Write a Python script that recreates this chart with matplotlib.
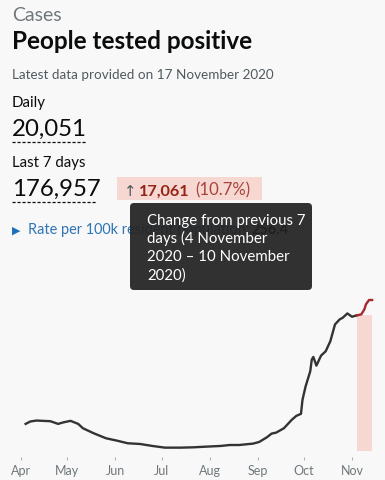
import numpy as np
import pandas as pd
import matplotlib
matplotlib.use("Agg")
import matplotlib.pyplot as plt
import matplotlib.dates as mdates
from matplotlib.patches import FancyBboxPatch
from matplotlib.lines import Line2D
from matplotlib.transforms import IdentityTransform

plt.rcParams['font.family'] = ['Lato', 'DejaVu Sans']

# 7-day average of people tested positive
dates = ["2020-04-04", "2020-04-07", "2020-04-11", "2020-04-15", "2020-04-20", "2020-04-25",
         "2020-04-28", "2020-05-03", "2020-05-08", "2020-05-11", "2020-05-18", "2020-05-26",
         "2020-06-02", "2020-06-09", "2020-06-17", "2020-06-25", "2020-07-03", "2020-07-13",
         "2020-07-21", "2020-07-30", "2020-08-08", "2020-08-14", "2020-08-20", "2020-08-29",
         "2020-09-02", "2020-09-07", "2020-09-10", "2020-09-13", "2020-09-18", "2020-09-23",
         "2020-09-26", "2020-09-29", "2020-09-30", "2020-10-02", "2020-10-05", "2020-10-06",
         "2020-10-07", "2020-10-09", "2020-10-10", "2020-10-12", "2020-10-15", "2020-10-18",
         "2020-10-21", "2020-10-24", "2020-10-26", "2020-10-29", "2020-11-01", "2020-11-04",
         "2020-11-07", "2020-11-09", "2020-11-10", "2020-11-12", "2020-11-14"]
values = [4520, 4920, 5080, 5030, 4970, 4520, 4750, 5030, 4520, 3800, 2960, 2120,
          1730, 1290, 1170, 840, 560, 560, 610, 730, 840, 1000, 1000, 1230,
          1510, 2290, 2900, 3070, 3800, 5190, 5860, 6200, 8550, 10780, 13290, 15250,
          15690, 14240, 14800, 15920, 16640, 18320, 21110, 21950, 22230, 22950, 22400, 22620,
          22790, 23630, 24460, 25190, 25190]

highlight_start = "2020-11-04"
highlight_end = "2020-11-14"
month_ticks = ["2020-04-01", "2020-05-01", "2020-06-01", "2020-07-01", "2020-08-01",
               "2020-09-01", "2020-10-01", "2020-11-01"]
month_labels = ["Apr", "May", "Jun", "Jul", "Aug", "Sep", "Oct", "Nov"]

daily_value = "20,051"
week_value = "176,957"
change_value = "17,061"
change_pct = "(10.7%)"
rate_value = "256.4"

W, H = 385, 480
BG = "#f8f8f8"
fig = plt.figure(figsize=(W / 100, H / 100), dpi=100, facecolor=BG)


def txt(x, y, s, size, **kw):
    # x, y in pixels from top-left, y is the baseline; size in pixels
    return fig.text(x / W, 1 - y / H, s, fontsize=size * 0.72, va="baseline", ha="left", **kw)


def box(x0, y0, x1, y1, color, rounding=0, alpha=1.0, z=1):
    style = "round,pad=0,rounding_size=%g" % rounding if rounding else "square,pad=0"
    p = FancyBboxPatch((x0, H - y1), x1 - x0, y1 - y0, boxstyle=style,
                       facecolor=color, edgecolor="none", alpha=alpha,
                       transform=IdentityTransform(), zorder=z)
    fig.add_artist(p)


def dashed(x0, x1, y):
    fig.add_artist(Line2D([x0, x1], [H - y, H - y], transform=IdentityTransform(),
                          color="#0b0c0c", lw=0.9, dashes=(2.5, 1.5)))


# header text
txt(12, 21, "Cases", 19.5, color="#6f777b")
txt(12, 49, "People tested positive", 24.3, color="#0b0c0c", fontweight="bold")
txt(12, 79, "Latest data provided on 17 November 2020", 13.5, color="#505a5f")
txt(12, 106.5, "Daily", 15, color="#0b0c0c")
txt(12, 135.5, daily_value, 24, color="#0b0c0c")
dashed(12, 86, 142)
txt(12, 167, "Last 7 days", 15, color="#0b0c0c")
txt(12, 196, week_value, 24, color="#0b0c0c")
dashed(12, 97, 202)

# change badge
box(117, 177, 262, 200, "#f6d7d2")
txt(124, 195.5, "\u2191", 15, color="#505a5f", family=["DejaVu Sans"])
txt(139, 195.5, change_value, 16.3, color="#942514", fontweight="bold")
txt(195, 195.5, change_pct, 16.8, color="#a8453a")

# rate link (mostly hidden under the tooltip)
txt(12, 234, "\u25b6", 11, color="#1d70b8", family=["DejaVu Sans"])
txt(28, 234, "Rate per 100k resident population:", 14.5, color="#2f74b5")
txt(252, 234, rate_value, 14.5, color="#0b0c0c", fontweight="bold")

# tooltip
box(130, 203, 312, 290, "#222222", rounding=4, alpha=0.93, z=5)
tip_lines = ["Change from previous 7", "days (4 November", "2020 \u2013 10 November", "2020)"]
for i, line in enumerate(tip_lines):
    t = txt(147, 224.5 + i * 18.3, line, 15, color="white")
    t.set_zorder(6)

# chart
ax = fig.add_axes([10 / W, (H - 457) / H, 365 / W, 157 / H])
ax.set_facecolor(BG)
x = pd.to_datetime(dates)
y = np.array(values)
hs, he = pd.Timestamp(highlight_start), pd.Timestamp(highlight_end)
shade_top = y[x == hs][0]
ax.fill_between([hs, he], 0, shade_top, color="#f6d7d2", lw=0, zorder=1)

black = x <= hs
red = x >= hs
ax.plot(x[black], y[black], color="#333333", lw=1.7, solid_joinstyle="round", clip_on=False, zorder=3)
ax.plot(x[red], y[red], color="#a52a2a", lw=1.7, solid_joinstyle="round", clip_on=False, zorder=3)

per_px = max(values) / 151.0
ax.set_ylim(-6 * per_px, max(values))
x0 = mdates.date2num(pd.Timestamp("2020-04-01"))
x1 = mdates.date2num(pd.Timestamp("2020-11-01"))
day_px = (352 - 21) / (x1 - x0)
ax.set_xlim(x0 - 11 / day_px, x1 + 23 / day_px)

ax.set_xticks(pd.to_datetime(month_ticks))
ax.set_xticklabels(month_labels)
ax.set_yticks([])
for s in ax.spines.values():
    s.set_visible(False)
ax.tick_params(axis="x", direction="out", length=2.5, width=0.8, color="#b1b4b6",
               labelsize=12.5 * 0.72, labelcolor="#6f777b", pad=3)

fig.savefig("out.png", dpi=100, facecolor=BG)
